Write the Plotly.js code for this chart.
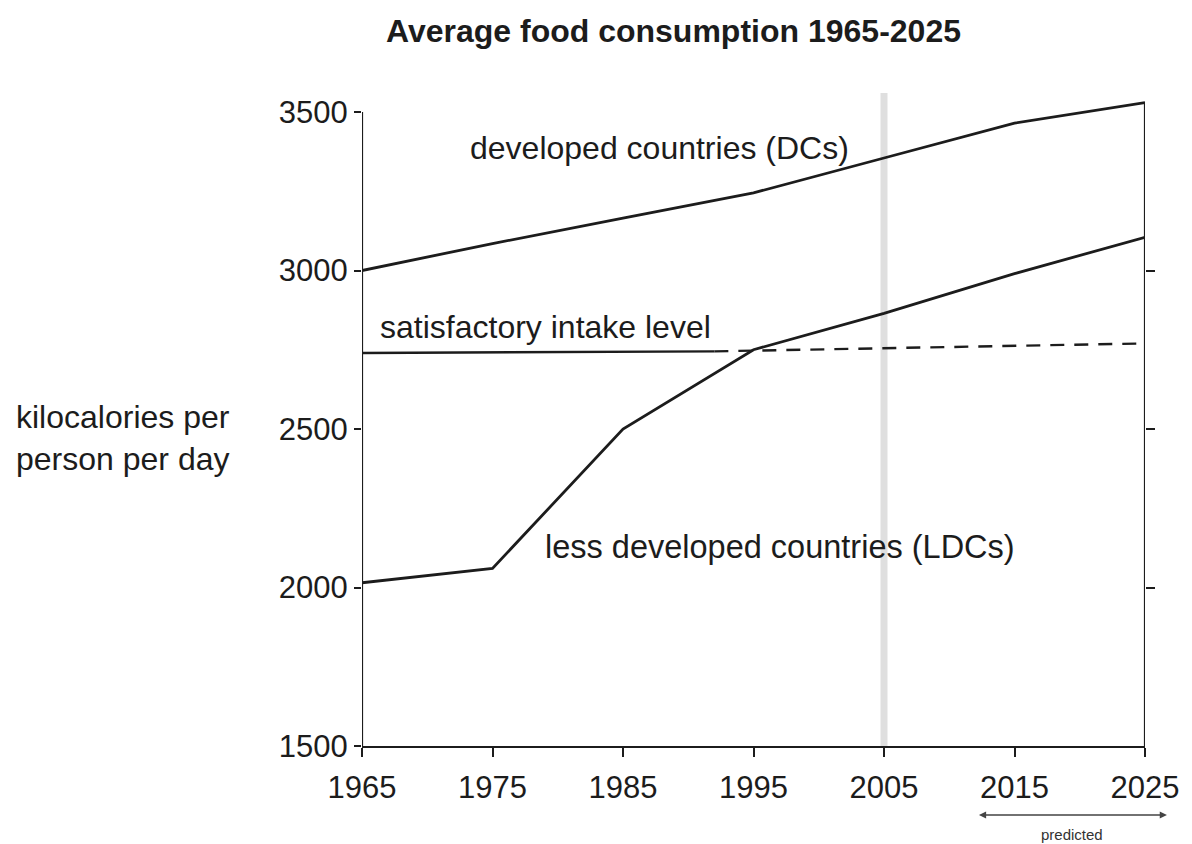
<!DOCTYPE html>
<html>
<head>
<meta charset="utf-8">
<script src="https://cdn.plot.ly/plotly-3.0.1.min.js"></script>
<style>
  html, body { margin: 0; padding: 0; background: #ffffff; }
  #chart { width: 1192px; height: 844px; }
</style>
</head>
<body>
<div id="chart"></div>
<script>
// ---- data ----
const years = [1965, 1975, 1985, 1995, 2005, 2015, 2025];
const developedCountries = [3000, 3085, 3165, 3245, 3355, 3465, 3530];
const lessDevelopedCountries = [2015, 2060, 2500, 2750, 2865, 2990, 3105];
const satisfactorySolidYears = [1965, 1992];
const satisfactorySolid = [2740, 2745];
const satisfactoryDashYears = [1992, 2025];
const satisfactoryDash = [2745, 2770];
const xTickVals = [1965, 1975, 1985, 1995, 2005, 2015, 2025];
const yTickVals = [1500, 2000, 2500, 3000, 3500];
const rightTickVals = [2000, 2500, 3000];

const ink = '#1c1c1c';
const sans = "'Liberation Sans', Arial, sans-serif";

const traces = [
  { x: years, y: developedCountries, mode: 'lines', line: { color: ink, width: 2.8 }, hoverinfo: 'skip' },
  { x: years, y: lessDevelopedCountries, mode: 'lines', line: { color: ink, width: 2.8 }, hoverinfo: 'skip' },
  { x: satisfactorySolidYears, y: satisfactorySolid, mode: 'lines', line: { color: ink, width: 2.4 }, hoverinfo: 'skip' },
  { x: satisfactoryDashYears, y: satisfactoryDash, mode: 'lines', line: { color: ink, width: 2.4, dash: '14px,10px' }, hoverinfo: 'skip' },
  { x: [2025], y: [2500], yaxis: 'y2', mode: 'markers', marker: { opacity: 0 }, hoverinfo: 'skip' }
];

const layout = {
  width: 1192, height: 844,
  margin: { l: 362, r: 47, t: 93, b: 98 },
  paper_bgcolor: '#ffffff', plot_bgcolor: '#ffffff',
  showlegend: false,
  font: { family: sans, color: ink },
  title: {
    text: '<b>Average food consumption 1965-2025</b>',
    font: { family: sans, size: 32, color: ink },
    x: 0.565, xanchor: 'center', y: 0.964, yanchor: 'middle'
  },
  xaxis: {
    range: [1965, 2025], tickvals: xTickVals, ticktext: xTickVals.map(String),
    ticks: 'outside', ticklen: 9, tickwidth: 2, tickcolor: ink,
    showline: true, linecolor: ink, linewidth: 2.2,
    showgrid: false, zeroline: false, ticklabelstandoff: 4,
    tickfont: { family: sans, size: 31, color: ink }
  },
  yaxis: {
    range: [1500, 3560], tickvals: yTickVals, ticktext: yTickVals.map(String),
    ticks: 'outside', ticklen: 7, tickwidth: 2, tickcolor: ink,
    showline: false, showgrid: false, zeroline: false,
    tickfont: { family: sans, size: 31, color: ink }
  },
  yaxis2: {
    overlaying: 'y', side: 'right', range: [1500, 3560],
    tickvals: rightTickVals, showticklabels: false,
    ticks: 'outside', ticklen: 9, tickwidth: 2, tickcolor: ink,
    showline: false, showgrid: false, zeroline: false
  },
  shapes: [
    { type: 'line', xref: 'x', yref: 'y', x0: 2005, x1: 2005, y0: 1500, y1: 3560, layer: 'below',
      line: { color: 'rgba(170,170,170,0.38)', width: 7 } },
    { type: 'line', xref: 'x', yref: 'y', x0: 1965, x1: 1965, y0: 1500, y1: 3500,
      line: { color: ink, width: 2.2 } },
    { type: 'line', xref: 'x', yref: 'y', x0: 2025, x1: 2025, y0: 1500, y1: 3530,
      line: { color: ink, width: 2.2 } }
  ],
  annotations: [
    { xref: 'x', yref: 'y', x: 1987.8, y: 3386, text: 'developed countries (DCs)', showarrow: false,
      xanchor: 'center', yanchor: 'middle', font: { family: sans, size: 32, color: ink } },
    { xref: 'x', yref: 'y', x: 1966.2, y: 2822, text: 'satisfactory intake level', showarrow: false,
      xanchor: 'left', yanchor: 'middle', font: { family: sans, size: 32, color: ink } },
    { xref: 'x', yref: 'y', x: 1978.9, y: 2128, text: 'less developed countries (LDCs)', showarrow: false,
      xanchor: 'left', yanchor: 'middle', font: { family: sans, size: 32.5, color: ink } },
    { xref: 'paper', yref: 'y', x: -0.4444, y: 2472, text: 'kilocalories per<br>person per day', showarrow: false,
      xanchor: 'left', yanchor: 'middle', align: 'left', font: { family: sans, size: 32, color: ink } },
    { xref: 'paper', yref: 'paper', x: 1.028, y: -0.1057, ax: -191, ay: 0, axref: 'pixel', ayref: 'pixel',
      text: ' ', showarrow: true, arrowside: 'end+start', arrowhead: 2, arrowsize: 0.9, arrowwidth: 1.6,
      arrowcolor: '#444444' },
    { xref: 'paper', yref: 'paper', x: 0.907, y: -0.136, text: 'predicted', showarrow: false,
      xanchor: 'center', yanchor: 'middle', font: { family: sans, size: 15, color: '#333333' } }
  ]
};

Plotly.newPlot('chart', traces, layout, { staticPlot: true, displayModeBar: false });
</script>
</body>
</html>
